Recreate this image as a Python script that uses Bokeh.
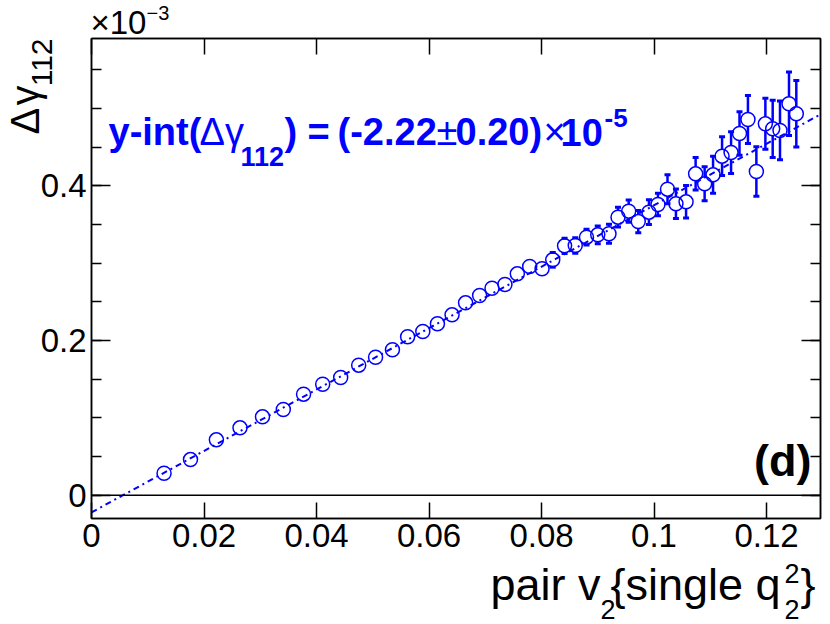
import math
import numpy as np
from bokeh.plotting import figure
from bokeh.models import (Range1d, LinearAxis, SingleIntervalTicker, CustomJSTickFormatter,
                          Label, Span, Whisker, TeeHead, ColumnDataSource)
from bokeh.embed import file_html
from bokeh.resources import INLINE

# ---------------- data (y in units of 1e-3) ----------------
pair_v2 = [0.0129, 0.0176, 0.0222, 0.0264, 0.0304, 0.0341, 0.0377, 0.0411, 0.0443, 0.0475,
           0.0505, 0.0535, 0.0562, 0.0589, 0.0615, 0.0641, 0.0665, 0.0690, 0.0712, 0.0735,
           0.0757, 0.0779, 0.0801, 0.0820, 0.0841, 0.0860, 0.0880, 0.0900, 0.0920, 0.0936,
           0.0955, 0.0972, 0.0991, 0.1007, 0.1024, 0.1039, 0.1057, 0.1074, 0.1090, 0.1105,
           0.1121, 0.1137, 0.1152, 0.1167, 0.1182, 0.1198, 0.1211, 0.1224, 0.1240, 0.1253]
delta_gamma = [0.0284, 0.0461, 0.0716, 0.0871, 0.1013, 0.1108, 0.1306, 0.1435, 0.1522, 0.1681,
               0.1784, 0.1880, 0.2048, 0.2116, 0.2216, 0.2332, 0.2487, 0.2582, 0.2676, 0.2724,
               0.2862, 0.2957, 0.2927, 0.3043, 0.3224, 0.3228, 0.3336, 0.3366, 0.3380, 0.3594,
               0.3672, 0.3538, 0.3659, 0.3758, 0.3956, 0.3767, 0.3793, 0.4155, 0.4026, 0.4142,
               0.4383, 0.4430, 0.4676, 0.4857, 0.4185, 0.4801, 0.4737, 0.4715, 0.5060, 0.4931]
delta_gamma_err = [0.0020, 0.0020, 0.0022, 0.0024, 0.0026, 0.0028, 0.0030, 0.0032, 0.0034, 0.0036,
                   0.0038, 0.0040, 0.0042, 0.0045, 0.0048, 0.0052, 0.0055, 0.0060, 0.0064, 0.0068,
                   0.0072, 0.0080, 0.0085, 0.0095, 0.0098, 0.0100, 0.0101, 0.0114, 0.0123, 0.0127,
                   0.0144, 0.0144, 0.0160, 0.0144, 0.0187, 0.0190, 0.0210, 0.0210, 0.0220, 0.0240,
                   0.0250, 0.0270, 0.0280, 0.0310, 0.0320, 0.0330, 0.0370, 0.0380, 0.0410, 0.0430]
FIT_INTERCEPT = -0.0222
FIT_SLOPE = 3.97

# ---------------- geometry ----------------
PAGE_W, PAGE_H = 830, 624
W, H = 822, 600
XMIN, XMAX = 0.0, 0.1296
YMIN, YMAX = -0.0301, 0.5904
ML, MR, MT, MB = 91, 2, 38, 82   # frame borders in figure px
FH = H - MT - MB
BLUE = "#0000ff"
FONT = "Liberation Sans"

p = figure(width=W, height=H, output_backend="svg", toolbar_location=None,
           x_range=Range1d(XMIN, XMAX), y_range=Range1d(YMIN, YMAX),
           min_border_left=ML, min_border_right=MR, min_border_top=MT, min_border_bottom=MB,
           x_axis_location=None, y_axis_location=None)
p.grid.visible = False
p.outline_line_color = "black"
p.outline_line_width = 1.5
p.background_fill_color = "white"
p.border_fill_color = "white"

fmt = CustomJSTickFormatter(code="return String(parseFloat(tick.toFixed(4)));")
blank = CustomJSTickFormatter(code="return '';")

def style_axis(ax, labels, tick_len, minor_len=None):
    ax.major_tick_in = tick_len
    ax.major_tick_out = 0
    if minor_len is None:
        ax.minor_tick_line_color = None
    else:
        ax.minor_tick_in = minor_len
        ax.minor_tick_out = 0
        ax.minor_tick_line_width = 1.5
    ax.major_tick_line_width = 1.5
    ax.axis_line_width = 1.5
    ax.major_label_text_font = FONT
    ax.major_label_text_font_size = "33px" if labels else "0px"
    ax.major_label_text_color = "black"
    ax.major_label_standoff = 5 if labels else 0
    return ax

for loc, lbl in (("below", True), ("above", False)):
    ax = LinearAxis(ticker=SingleIntervalTicker(interval=0.02, num_minor_ticks=0),
                    formatter=fmt if lbl else blank)
    p.add_layout(style_axis(ax, lbl, 16), loc)
for loc, lbl in (("left", True), ("right", False)):
    ax = LinearAxis(ticker=SingleIntervalTicker(interval=0.2, num_minor_ticks=4),
                    formatter=fmt if lbl else blank)
    p.add_layout(style_axis(ax, lbl, 19, 10), loc)

p.add_layout(Span(location=0, dimension="width", line_color="black", line_width=1.5))

# fit line
fit_x = np.array([XMIN, XMAX])
fit_y = FIT_INTERCEPT + FIT_SLOPE * fit_x
p.line(fit_x, fit_y, line_color=BLUE, line_width=2, line_dash="6 4 2 4")

# error bars drawn outside the open markers
R_PX = 7.0
r_data = R_PX * (YMAX - YMIN) / FH
xs = np.array(pair_v2); ys = np.array(delta_gamma); es = np.array(delta_gamma_err)
m = es > r_data
src_up = ColumnDataSource(dict(x=xs[m], lo=ys[m] + r_data, hi=ys[m] + es[m]))
src_dn = ColumnDataSource(dict(x=xs[m], lo=ys[m] - es[m], hi=ys[m] - r_data))
p.add_layout(Whisker(source=src_up, base="x", lower="lo", upper="hi", dimension="height",
                     line_color=BLUE, line_width=2.5, lower_head=None,
                     upper_head=TeeHead(size=6, line_color=BLUE, line_width=3)))
p.add_layout(Whisker(source=src_dn, base="x", lower="lo", upper="hi", dimension="height",
                     line_color=BLUE, line_width=2.5, upper_head=None,
                     lower_head=TeeHead(size=6, line_color=BLUE, line_width=3)))

p.scatter(pair_v2, delta_gamma, marker="circle", size=2 * R_PX, fill_color=None,
          line_color=BLUE, line_width=1.5)

# ---------------- text overlay (page pixel coordinates, y down) ----------------
ov = figure(width=PAGE_W, height=PAGE_H, output_backend="svg", toolbar_location=None,
            x_range=Range1d(0, PAGE_W), y_range=Range1d(PAGE_H, 0),
            min_border=0, min_border_left=0, min_border_right=0,
            min_border_top=0, min_border_bottom=0,
            x_axis_location=None, y_axis_location=None,
            styles={"position": "absolute", "left": "0px", "top": "0px",
                    "pointer-events": "none"})
ov.grid.visible = False
ov.outline_line_color = None
ov.background_fill_color = None
ov.border_fill_color = None

SHIFT = 0.347  # the label anchor sits at the middle of the em box

def lab(text, px, py, size, color="black", bold=False, align="left", rotated=False):
    if rotated:
        x, y, ang = px - SHIFT * size, py, math.pi / 2
    else:
        x, y, ang = px, py - SHIFT * size, 0.0
    ov.add_layout(Label(x=x, y=y, text=text, text_font=FONT,
                        text_font_size=f"{size}px", text_color=color,
                        text_font_style="bold" if bold else "normal",
                        text_align=align, text_baseline="alphabetic", angle=ang))

# y-axis title (rotated, baseline x given)
lab("\u0394", 38, 134, 40, rotated=True)
lab("\u03b3", 38, 105, 40, rotated=True)
lab("112", 52, 38, 30, align="right", rotated=True)
# x-axis title
lab("pair v", 490, 600, 45)
lab("2", 600, 618, 27)
lab("{single q", 610, 600, 45)
lab("2", 784, 582, 27)
lab("2", 784, 618, 27)
lab("}", 800, 600, 45)
# exponent
lab("\u00d710", 90, 33, 33)
lab("\u22123", 146, 19, 20)
# panel tag
lab("(d)", 811, 476, 45, bold=True, align="right")
# fit annotation
lab("y-int(", 108, 145, 38, BLUE, True)
lab("\u0394\u03b3", 199, 145, 38, BLUE, False)
lab("112", 240, 165, 27, BLUE, True)
lab(")", 284, 145, 38, BLUE, True)
lab("=", 307, 145, 38, BLUE, True)
lab("(-2.22", 337, 145, 38, BLUE, True)
lab("\u00b1", 436, 145, 38, BLUE, False)
lab("0.20)", 455, 145, 38, BLUE, True)
lab("\u00d7", 543, 145, 38, BLUE, False)
lab("10", 560, 145, 38, BLUE, True)
lab("-5", 604, 127, 26, BLUE, True)

open("out.html", "w").write(file_html([p, ov], INLINE))
